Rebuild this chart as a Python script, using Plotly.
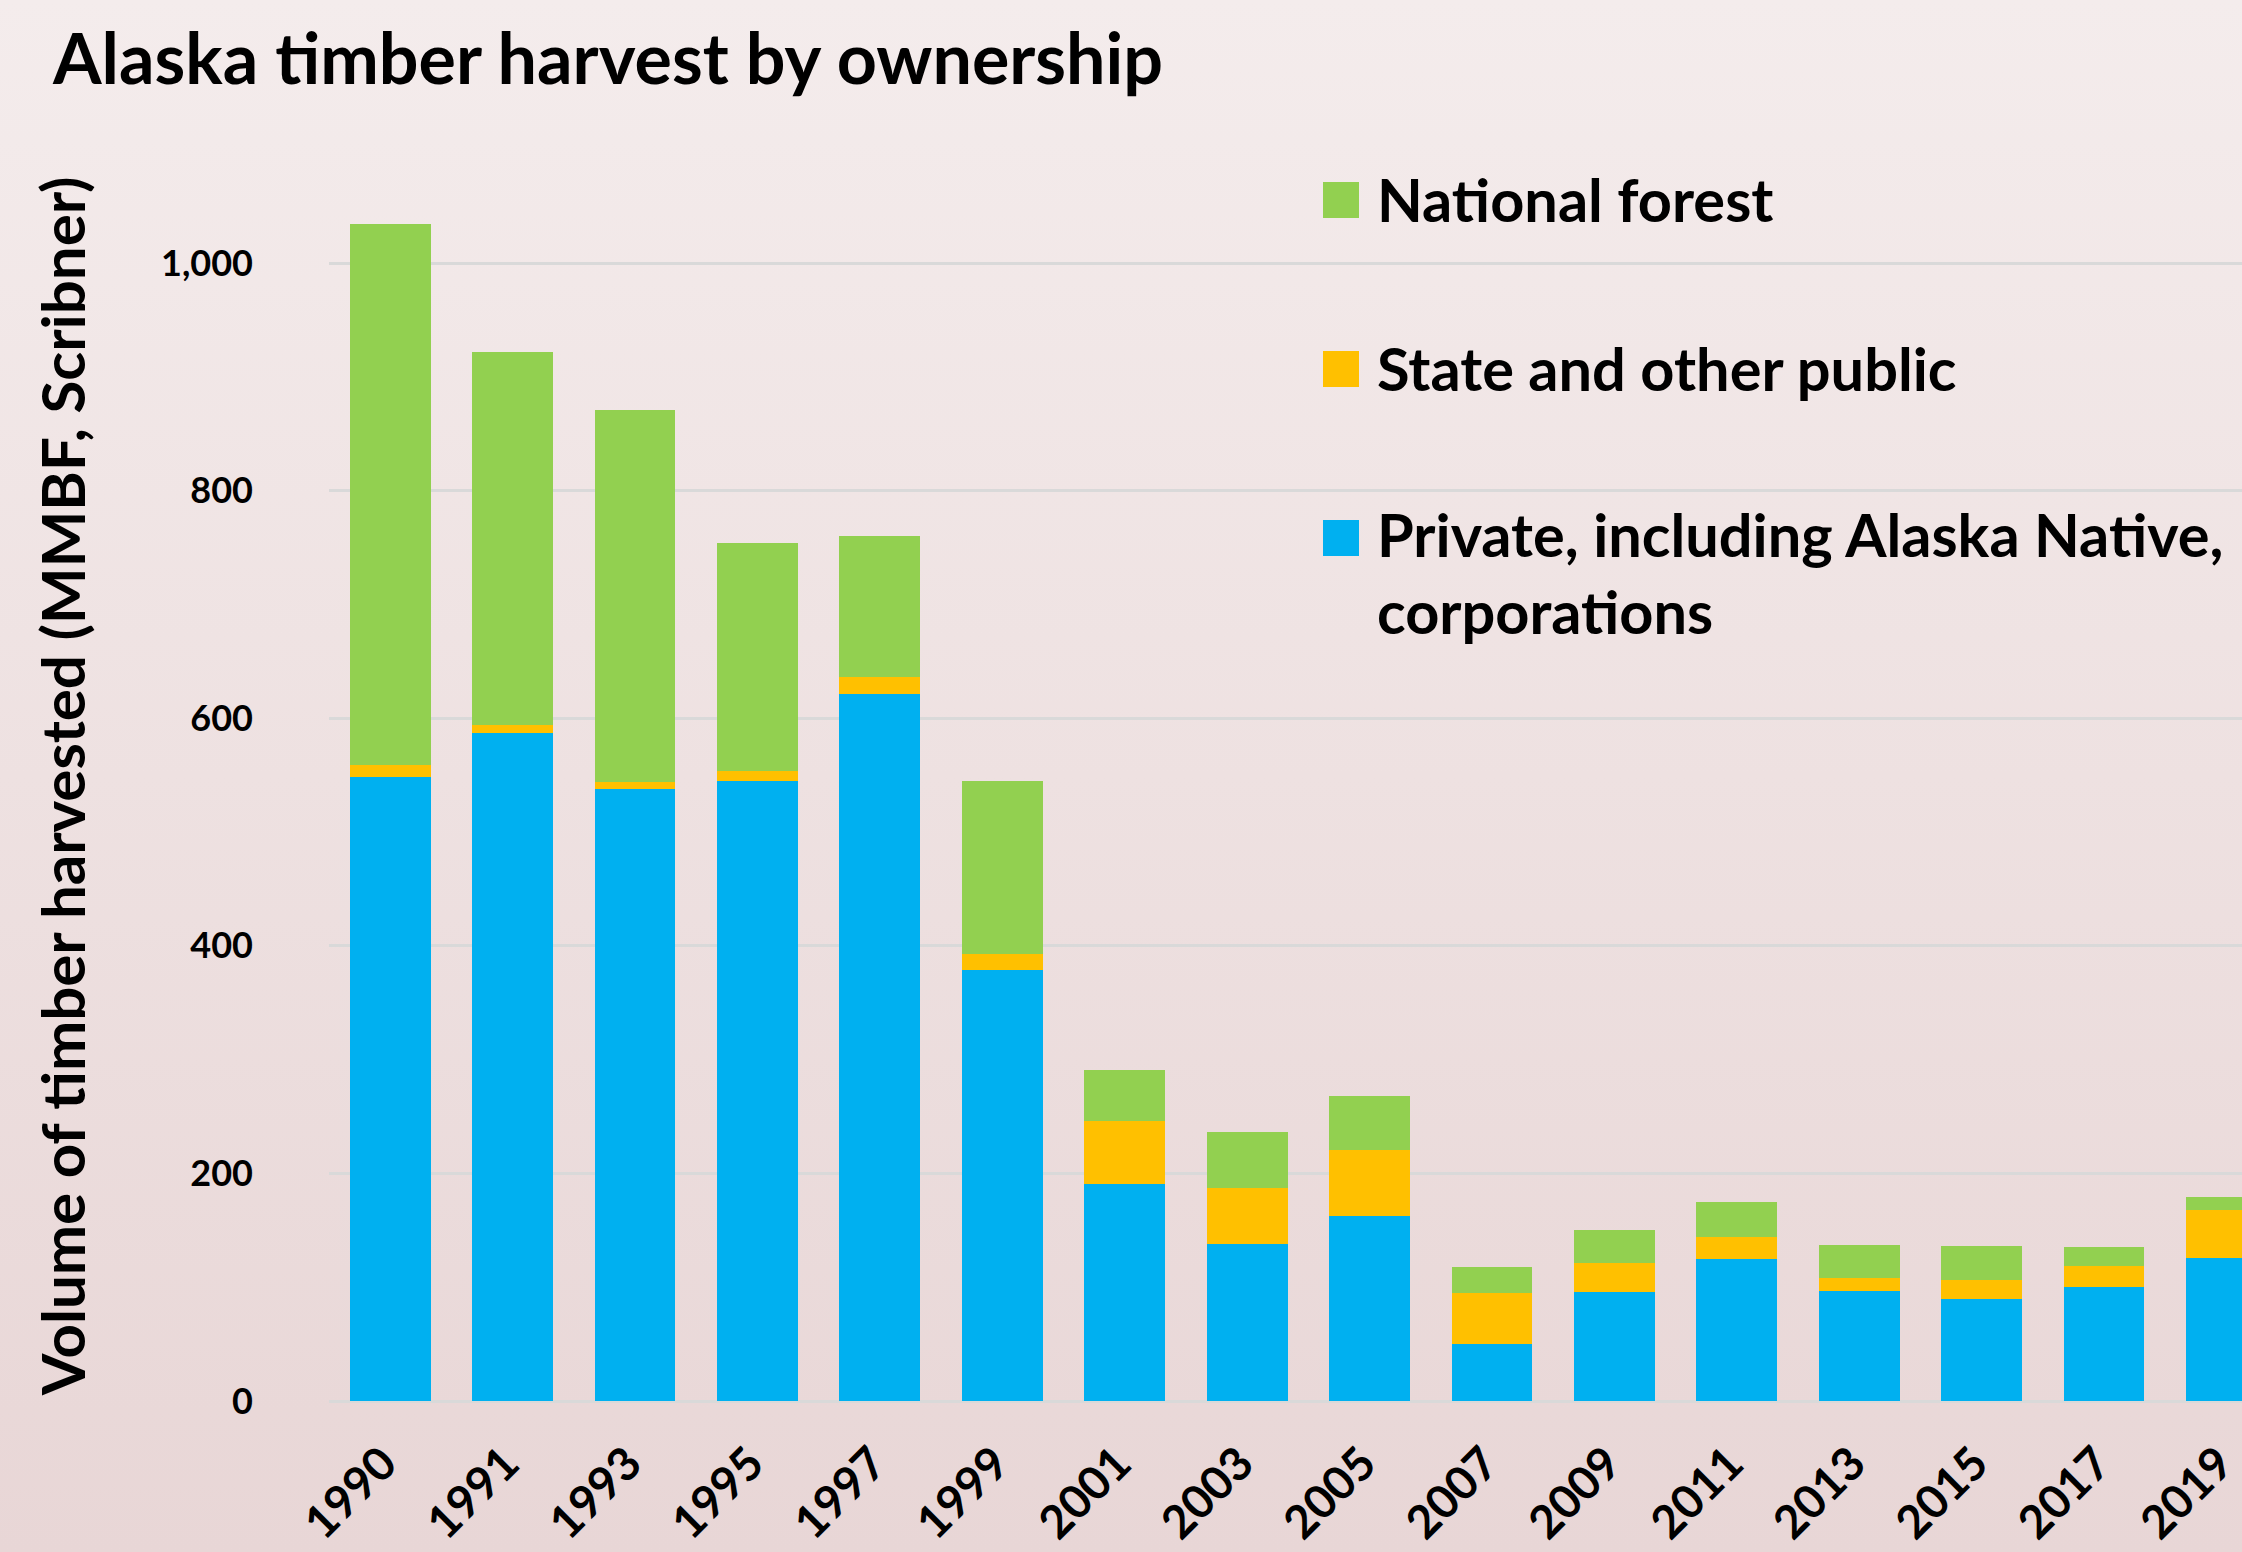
import base64
import plotly.graph_objects as go

# ---------------- data ----------------
years = ["1990", "1991", "1993", "1995", "1997", "1999", "2001", "2003",
         "2005", "2007", "2009", "2011", "2013", "2015", "2017", "2019"]
private = [548, 587, 538, 545, 621, 379, 191, 138, 163, 50, 96, 125, 97, 90, 100, 126]
state_public = [11, 7, 6, 9, 15, 14, 55, 49, 58, 45, 25, 19, 11, 16, 19, 42]
national_forest = [475, 328, 327, 200, 124, 152, 45, 49, 47, 23, 29, 31, 29, 30, 16, 11]

series_names = ["Private, including Alaska Native, corporations",
                "State and other public",
                "National forest"]
legend_labels = ["National forest",
                 "State and other public",
                 "Private, including Alaska Native,<br>corporations"]
y_tickvals = [0, 200, 400, 600, 800, 1000]
y_ticktext = ["0", "200", "400", "600", "800", "1,000"]

title_text = "Alaska timber harvest by ownership"
y_title = "Volume of timber harvested (MMBF, Scribner)"

# ---------------- styles ----------------
C_BLUE, C_YELLOW, C_GREEN = "#00B0F0", "#FFC000", "#92D050"
FONT = "Lato"
W, H = 2242, 1552
ML, MR, MT, MB = 329, 0, 171, 151
PW, PH = W - ML - MR, H - MT - MB
PX_PER_UNIT = 1.138
Y_MAX = PH / PX_PER_UNIT


def px_x(px):
    return (px - ML) / PW


def px_y(py):
    return (H - MB - py) / PH


fig = go.Figure()
for name, vals, col in zip(series_names,
                           [private, state_public, national_forest],
                           [C_BLUE, C_YELLOW, C_GREEN]):
    fig.add_trace(go.Bar(x=years, y=vals, name=name, marker_color=col,
                         marker_line_width=0, showlegend=False))

# gradient background
svg = ('<svg xmlns="http://www.w3.org/2000/svg" width="100" height="100" preserveAspectRatio="none">'
       '<defs><linearGradient id="g" x1="0" y1="0" x2="0" y2="1">'
       '<stop offset="0" stop-color="#F4ECEC"/><stop offset="1" stop-color="#E8D6D6"/>'
       '</linearGradient></defs><rect width="100" height="100" fill="url(#g)"/></svg>')
src = "data:image/svg+xml;base64," + base64.b64encode(svg.encode()).decode()

# manual legend (large swatches as in the reference)
LEG_FONT = dict(family=FONT, size=59.5, color="black", weight="bold")
leg_colors = [C_GREEN, C_YELLOW, C_BLUE]
leg_centers = [200, 369, 538]
shapes = []
annotations = []
for lab, col, cy in zip(legend_labels, leg_colors, leg_centers):
    shapes.append(dict(type="rect", xref="paper", yref="paper",
                       x0=px_x(1323), x1=px_x(1359),
                       y0=px_y(cy + 18), y1=px_y(cy - 18),
                       fillcolor=col, line_width=0))
    if "<br>" in lab:
        annotations.append(dict(text=lab, xref="paper", yref="paper",
                                x=px_x(1375), y=px_y(cy - 42), xanchor="left",
                                yanchor="top", align="left", showarrow=False,
                                font=LEG_FONT))
    else:
        annotations.append(dict(text=lab, xref="paper", yref="paper",
                                x=px_x(1375), y=px_y(cy - 1), xanchor="left",
                                yanchor="middle", align="left", showarrow=False,
                                font=LEG_FONT))

fig.update_layout(
    width=W, height=H,
    margin=dict(l=ML, r=MR, t=MT, b=MB, autoexpand=False),
    barmode="stack", bargap=0.34,
    paper_bgcolor="#EEE1E1", plot_bgcolor="rgba(0,0,0,0)",
    images=[dict(source=src, xref="paper", yref="paper",
                 x=-ML / PW, y=1 + MT / PH, sizex=W / PW, sizey=H / PH,
                 xanchor="left", yanchor="top", sizing="stretch", layer="below")],
    title=dict(text=title_text, xref="container", yref="container",
               x=53 / W, y=1 - 59 / H, xanchor="left", yanchor="middle",
               font=dict(family=FONT, size=70, color="black", weight="bold")),
    xaxis=dict(type="category", range=[-0.5, 15.127], tickangle=-45,
               tickfont=dict(family=FONT, size=46, color="black", weight="bold"),
               showgrid=False, ticks="", showline=False, ticklabelstandoff=25,
               ticklabelshift=-7),
    yaxis=dict(range=[0, Y_MAX], tickvals=y_tickvals, ticktext=y_ticktext,
               tickfont=dict(family=FONT, size=36, color="black", weight="bold"),
               gridcolor="#D9D9D9", gridwidth=2.5, zeroline=True,
               zerolinecolor="#D9D9D9", zerolinewidth=3, ticks="",
               ticklabelstandoff=75,
               title=dict(text=y_title, standoff=56,
                          font=dict(family=FONT, size=60, color="black", weight="bold"))),
    shapes=shapes, annotations=annotations,
    showlegend=False,
)

fig.write_html("out.html",
               config={"displayModeBar": False},
               post_script="document.body.style.margin='0';document.body.style.padding='0';"
                           "document.body.style.overflow='hidden';")
